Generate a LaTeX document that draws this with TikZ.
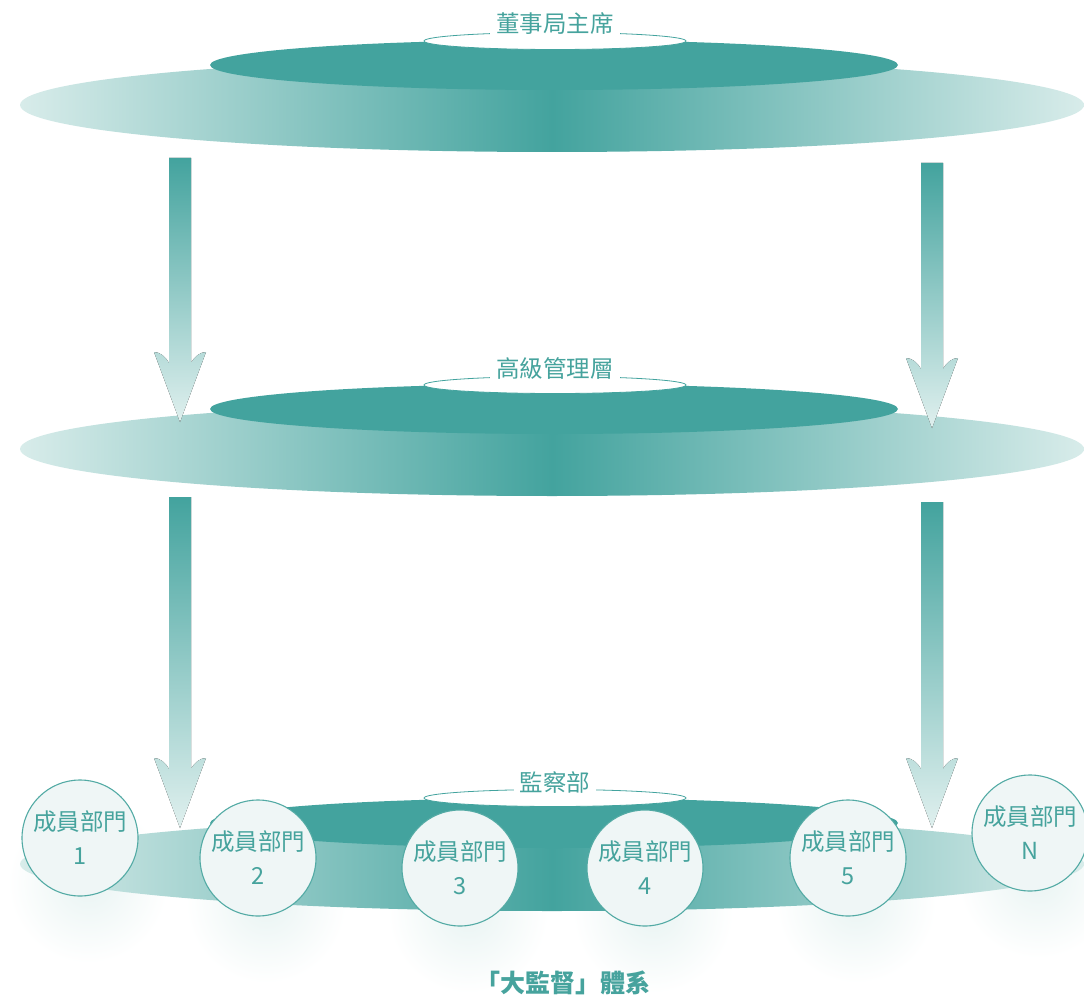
\documentclass[tikz,border=0pt]{standalone}
\usepackage{fontspec}
\setmainfont{Noto Sans CJK TC}
\usetikzlibrary{shapes.geometric, positioning, calc, fadings}
\definecolor{tealmain}{HTML}{43A39E}
\definecolor{tealpale}{HTML}{D8ECEA}
\definecolor{tealtext}{HTML}{46A39D}
\definecolor{tealline}{HTML}{52AAA4}
\definecolor{circlefill}{HTML}{EFF6F6}
\definecolor{glowcol}{HTML}{DDEEEC}
\pgfdeclarelayer{background}
\pgfsetlayers{background,main}
\tikzfading[name=glowfade, inner color=transparent!0, outer color=transparent!100]
\tikzset{
  label_font/.style = {font=\fontsize{23.5}{34}\selectfont},
  title_font/.style = {font=\fontsize{25}{30}\selectfont\bfseries}
}
\tikzset{
  big_disc/.style = {ellipse, inner sep=0, minimum width=1064, minimum height=94,
    left color=tealpale, right color=tealpale, middle color=tealmain},
  top_disc/.style = {ellipse, inner sep=0, minimum width=688, minimum height=50, fill=tealmain},
  cap_disc/.style = {ellipse, inner sep=0, minimum width=262, minimum height=17,
    fill=white, draw=tealmain, line width=0.8},
  layer_label/.style = {label_font, text=tealtext, fill=white, inner xsep=6, inner ysep=1},
  member/.style = {label_font, circle, inner sep=0, minimum size=116, align=center,
    fill=circlefill, draw=tealline, line width=1.1, text=tealtext},
  arrow_shade/.style = {top color=tealmain, bottom color=tealpale!80!white},
  glow/.style = {fill=glowcol, path fading=glowfade, opacity=0.65}
}
\newcommand{\fatarrow}[2]{%
  \fill[arrow_shade] let \p1 = (#1), \p2 = (#2) in
    (\x1-11pt, \y1) -- (\x1+11pt, \y1) -- (\x1+11pt, \y2+59pt)
    .. controls (\x1+14pt, \y2+65pt) and (\x1+20pt, \y2+70pt) .. (\x1+26pt, \y2+70pt)
    -- (\x1, \y2)
    -- (\x1-26pt, \y2+70pt)
    .. controls (\x1-20pt, \y2+70pt) and (\x1-14pt, \y2+65pt) .. (\x1-11pt, \y2+59pt)
    -- cycle;}

\begin{document}
\begin{tikzpicture}[x=1pt, y=-1pt]
    \useasboundingbox (0,0) rectangle (1084,1000);

    % Board layer
    \node[big_disc] (l1_disc) at (552,105) {};
    \node[top_disc] (l1_top) at (554,65) {};
    \node[cap_disc] (l1_cap) at (555,41) {};
    \node[layer_label] at ([yshift=17]l1_cap.center) (l1_label) {董事局主席};

    % Management layer
    \node[big_disc] (l2_disc) at (552,449) {};
    \node[top_disc] (l2_top) at (554,409) {};
    \node[cap_disc] (l2_cap) at (555,385) {};
    \node[layer_label] at ([yshift=17]l2_cap.center) (l2_label) {高級管理層};

    % Supervision layer
    \node[big_disc] (l3_disc) at (552,864) {};
    \node[top_disc] (l3_top) at (554,823) {};
    \node[cap_disc] (l3_cap) at (555,798) {};
    \node[layer_label] at ([yshift=15]l3_cap.center) (l3_label) {監察部};

    % Arrows
    \coordinate (a1_left_top) at (180,158);
    \coordinate (a1_left_tip) at (180,422);
    \coordinate (a1_right_top) at (932,163);
    \coordinate (a1_right_tip) at (932,428);
    \coordinate (a2_left_top) at (180,497);
    \coordinate (a2_left_tip) at (180,828);
    \coordinate (a2_right_top) at (932,502);
    \coordinate (a2_right_tip) at (932,828);
    \fatarrow{a1_left_top}{a1_left_tip}
    \fatarrow{a1_right_top}{a1_right_tip}
    \fatarrow{a2_left_top}{a2_left_tip}
    \fatarrow{a2_right_top}{a2_right_tip}

    % Member departments
    \node[member] (m1) at (80,838) {成員部門\\1};
    \node[member] (m2) at (258,858) {成員部門\\2};
    \node[member] (m3) at (460,868) {成員部門\\3};
    \node[member] (m4) at (645,868) {成員部門\\4};
    \node[member] (m5) at (848,858) {成員部門\\5};
    \node[member] (mn) at (1030,833) {成員部門\\N};

    % Soft shadows
    \begin{pgfonlayer}{background}
        \fill[glow] ([shift={(8,45)}]m1.center) circle (80);
        \fill[glow] ([shift={(8,45)}]m2.center) circle (80);
        \fill[glow] ([shift={(8,45)}]m3.center) circle (80);
        \fill[glow] ([shift={(8,45)}]m4.center) circle (80);
        \fill[glow] ([shift={(8,45)}]m5.center) circle (80);
        \fill[glow] ([shift={(8,45)}]mn.center) circle (80);
    \end{pgfonlayer}

    \node[title_font, text=tealtext] (sys_title) at (563,983) {「大監督」體系};
\end{tikzpicture}
\end{document}
